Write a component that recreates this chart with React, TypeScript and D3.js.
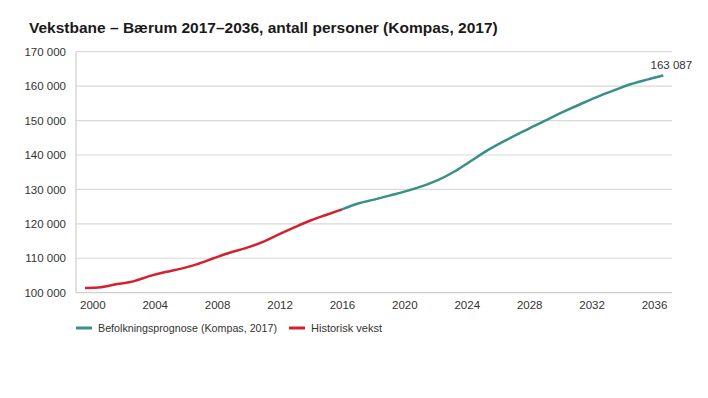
import React, { useEffect, useRef } from 'react';
import * as d3 from 'd3';

// years on the x axis
const years = d3.range(2000, 2037);

// population (2000 - 2036)
const population = [
  101400, 101600, 102500, 103300, 104800, 106000, 107000, 108300, 110000, 111600,
  112950, 114600, 116800, 118900, 120900, 122580, 124200, 125900, 127040, 128270,
  129490, 130950, 132750, 135200, 138200, 141200, 143800, 146200, 148500, 150800,
  153000, 155100, 157100, 158900, 160600, 161900, 163087,
];

// last year of the historical series
const lastHistoric = 2016;

const xTickLabels = ['2000', '2004', '2008', '2012', '2016', '2020', '2024', '2028', '2032', '2036'];
const yTicks = [100000, 110000, 120000, 130000, 140000, 150000, 160000, 170000];

const seriesNames = ['Befolkningsprognose (Kompas, 2017)', 'Historisk vekst'];
const seriesColors = ['#3a9087', '#d3222f'];

const fmt = (v: number) => d3.format(',')(v).replace(/,/g, ' ');

export default function App() {
  const ref = useRef<SVGSVGElement>(null);

  useEffect(() => {
    const width = 708;
    const height = 398;
    const left = 76;
    const right = 672;
    const top = 51.7;
    const bottom = 292.7;

    const svg = d3.select(ref.current);
    svg.selectAll('*').remove();
    svg.attr('width', width).attr('height', height)
      .style('font-family', '"Liberation Sans", Arial, sans-serif');

    const data = years.map((y, i) => ({ year: y, value: population[i] }));

    // line points sit a little left of the category labels, like the original
    const x = d3.scaleLinear().domain([2000, 2036]).range([85, 663.3]);
    const xLabels = d3.scalePoint().domain(xTickLabels).range([92.3, 654]);
    const y = d3.scaleLinear().domain([100000, 170000]).range([bottom, top]);

    // title
    svg.append('text')
      .attr('x', 29)
      .attr('y', 33)
      .attr('font-size', 15.5)
      .attr('font-weight', 'bold')
      .attr('fill', '#1a1a1a')
      .text('Vekstbane – Bærum 2017–2036, antall personer (Kompas, 2017)');

    // grid lines
    svg.append('g')
      .selectAll('line')
      .data(yTicks.slice(1))
      .enter()
      .append('line')
      .attr('x1', left)
      .attr('x2', right)
      .attr('y1', d => y(d))
      .attr('y2', d => y(d))
      .attr('stroke', '#d9d9d9')
      .attr('stroke-width', 1.2);

    // axis lines
    svg.append('line')
      .attr('x1', left).attr('x2', right)
      .attr('y1', bottom).attr('y2', bottom)
      .attr('stroke', '#cfcfcf').attr('stroke-width', 1.2);
    svg.append('line')
      .attr('x1', left).attr('x2', left)
      .attr('y1', top).attr('y2', bottom)
      .attr('stroke', '#cfcfcf').attr('stroke-width', 1.2);

    // y labels
    const yAxis = d3.axisLeft(y).tickValues(yTicks).tickSize(0).tickPadding(10).tickFormat(d => fmt(d as number));
    const gy = svg.append('g').attr('transform', `translate(${left}, 0)`).call(yAxis);
    gy.select('.domain').remove();
    gy.selectAll('text').attr('font-size', 11.5).attr('fill', '#333').attr('font-family', '"Liberation Sans", Arial, sans-serif');

    // x labels
    const xAxis = d3.axisBottom(xLabels).tickSize(0).tickPadding(8);
    const gx = svg.append('g').attr('transform', `translate(0, ${bottom})`).call(xAxis);
    gx.select('.domain').remove();
    gx.selectAll('text').attr('font-size', 11.5).attr('fill', '#333').attr('font-family', '"Liberation Sans", Arial, sans-serif');

    const line = d3.line<{ year: number; value: number }>()
      .x(d => x(d.year))
      .y(d => y(d.value))
      .curve(d3.curveMonotoneX);

    // forecast
    svg.append('path')
      .datum(data.filter(d => d.year >= lastHistoric))
      .attr('d', line)
      .attr('fill', 'none')
      .attr('stroke', seriesColors[0])
      .attr('stroke-width', 2.5);

    // history
    svg.append('path')
      .datum(data.filter(d => d.year <= lastHistoric))
      .attr('d', line)
      .attr('fill', 'none')
      .attr('stroke', seriesColors[1])
      .attr('stroke-width', 2.5);

    // end value label
    const last = data[data.length - 1];
    svg.append('text')
      .attr('x', x(last.year) + 8)
      .attr('y', y(last.value) - 7)
      .attr('text-anchor', 'middle')
      .attr('font-size', 11.5)
      .attr('fill', '#333')
      .text(fmt(last.value));

    // legend (text is a bit condensed in the original)
    const legendX = [76, 289];
    const legendTextW = [179, 71];
    const legend = svg.append('g').attr('transform', 'translate(0, 328)');
    seriesNames.forEach((name, i) => {
      legend.append('line')
        .attr('x1', legendX[i]).attr('x2', legendX[i] + 16)
        .attr('y1', 0).attr('y2', 0)
        .attr('stroke', seriesColors[i])
        .attr('stroke-width', 3);
      legend.append('text')
        .attr('x', legendX[i] + 22)
        .attr('y', 4)
        .attr('font-size', 11.5)
        .attr('fill', '#333')
        .attr('textLength', legendTextW[i])
        .attr('lengthAdjust', 'spacingAndGlyphs')
        .text(name);
    });
  }, []);

  return (
    <div style={{ position: 'absolute', left: 0, top: 0, background: 'white' }}>
      <svg ref={ref}></svg>
    </div>
  );
}
